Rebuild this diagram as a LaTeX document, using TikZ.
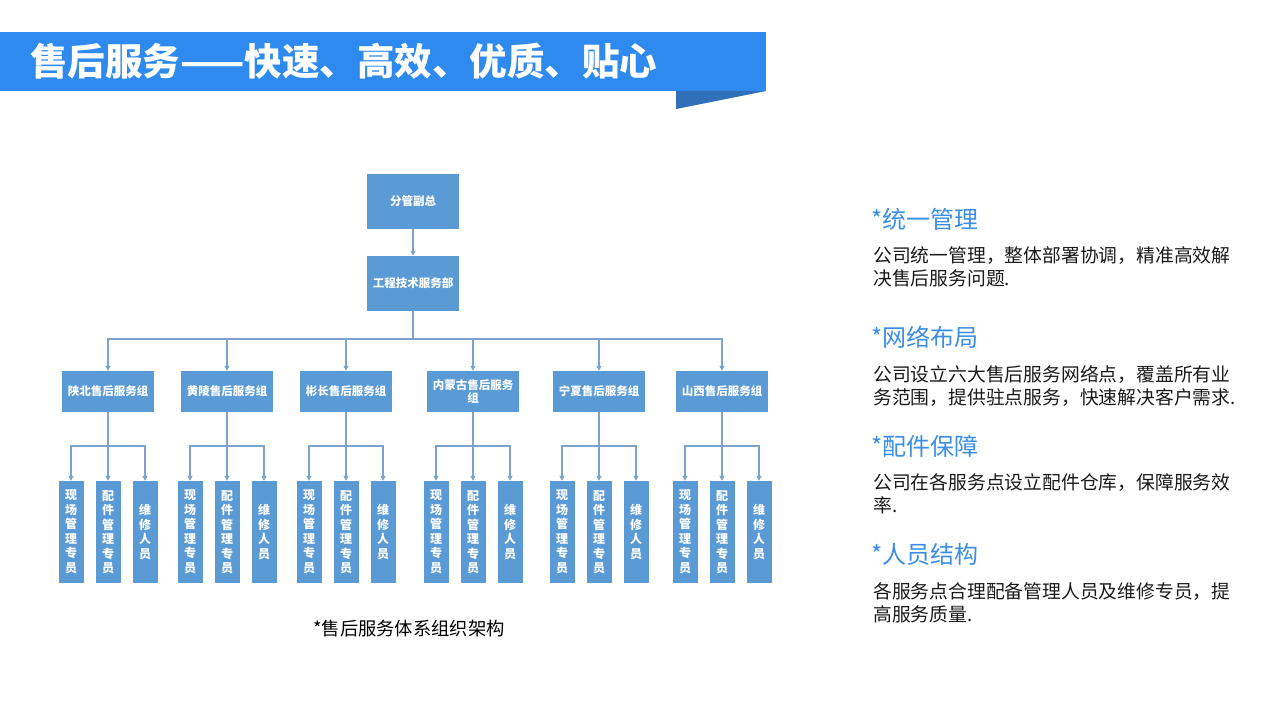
\documentclass[tikz,border=0pt]{standalone}
\usepackage{fontspec}
\newfontfamily\cjk{Noto Sans CJK SC}
\usetikzlibrary{arrows.meta}
\definecolor{barblue}{HTML}{2E8AEF}
\definecolor{tipblue}{HTML}{2F70B8}
\definecolor{boxblue}{HTML}{5B9BD5}
\definecolor{linkblue}{HTML}{7DA3CB}
\definecolor{headblue}{HTML}{3A8EE6}
\definecolor{bodygray}{HTML}{1A1A1A}

\begin{document}
\begin{tikzpicture}[x=1pt,y=-1pt,
  box/.style={fill=boxblue,text=white,font=\cjk\bfseries\fontsize{11.5}{13}\selectfont,
    minimum width=92pt,inner sep=1pt,align=center},
  leaf/.style={fill=boxblue,text=white,font=\cjk\bfseries\fontsize{12}{14.5}\selectfont,
    minimum width=25pt,minimum height=102pt,inner sep=0pt,align=center},
  link/.style={linkblue,line width=1.2pt},
  arrlink/.style={link,-{Triangle[width=5pt,length=5pt]}},
  head/.style={headblue,anchor=west,inner sep=0pt,font=\cjk\fontsize{24}{28}\selectfont},
  body/.style={bodygray,anchor=north west,inner sep=0pt,align=left,
    font=\cjk\fontsize{18.8}{23}\selectfont}]
  \useasboundingbox (0,0) rectangle (1280,720);
  % title banner
  \fill[barblue] (0,32) rectangle (766,91);
  \fill[tipblue] (676,91) -- (766,91) -- (676,109) -- cycle;
  \node[anchor=west,text=white,inner sep=0pt,font=\cjk\bfseries\fontsize{37.5}{40}\selectfont]
    (title) at (30,61) {售后服务——快速、高效、优质、贴心};

  % org chart
  \node[box,minimum height=55pt] (vp) at (413,201.5) {分管副总};
  \node[box,minimum height=55pt] (dept) at (413,283.5) {工程技术服务部};
  \draw[arrlink] (vp) -- (dept);
  \coordinate (bus) at (413,339);
  \draw[link] (dept.south) -- (bus);
  \foreach \gx/\gname/\gid in {108/陕北售后服务组/1, 227/黄陵售后服务组/2,
      346/彬长售后服务组/3, 473/{内蒙古售后服务\\组}/4,
      599/宁夏售后服务组/5, 722/山西售后服务组/6} {
    \node[box,minimum height=41pt] (g\gid) at (\gx,391.5) {\gname};
    \draw[arrlink] (bus) -| (g\gid.north);
    \coordinate (s\gid) at (\gx,446);
    \draw[link] (g\gid.south) -- (s\gid);
    \foreach \dx/\ltext/\lid in {-37/{现\\场\\管\\理\\专\\员}/a,
        0/{配\\件\\管\\理\\专\\员}/b, 37/{维\\修\\人\\员}/c} {
      \node[leaf] (l\gid\lid) at ({\gx+\dx},532) {\ltext};
      \draw[arrlink] (s\gid) -| (l\gid\lid.north);
    }
  }
  \node[font=\cjk\fontsize{18.3}{20}\selectfont,inner sep=0pt] (cap) at (409,629)
    {*售后服务体系组织架构};

  % right column
  \node[head] (h1) at (871,219) {*统一管理};
  \node[body] (t1) at (873,246) {公司统一管理，整体部署协调，精准高效解\\决售后服务问题.};
  \node[head] (h2) at (871,337) {*网络布局};
  \node[body] (t2) at (873,365) {公司设立六大售后服务网络点，覆盖所有业\\务范围，提供驻点服务，快速解决客户需求.};
  \node[head] (h3) at (871,446) {*配件保障};
  \node[body] (t3) at (873,473) {公司在各服务点设立配件仓库，保障服务效\\率.};
  \node[head] (h4) at (871,554) {*人员结构};
  \node[body] (t4) at (873,582) {各服务点合理配备管理人员及维修专员，提\\高服务质量.};
\end{tikzpicture}
\end{document}
